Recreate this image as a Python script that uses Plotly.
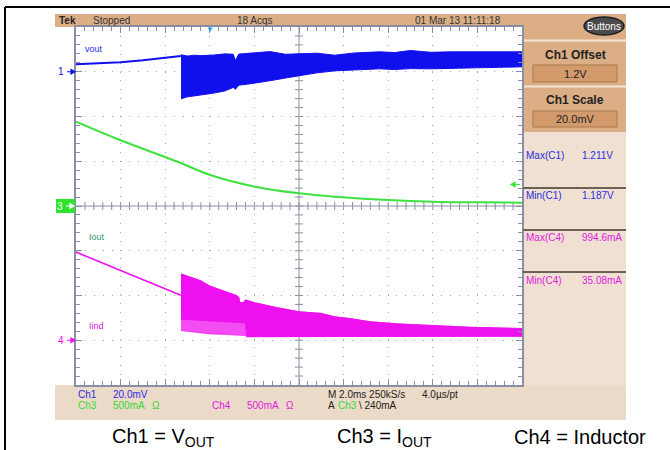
import plotly.graph_objects as go

W, H = 670, 450
GX0, GX1, GY0, GY1 = 76, 522, 27, 385   # graticule box (px)
DIV_PX = (GY1 - GY0) / 8

def px(x):
    return x / W

def py(y):
    return 1 - y / H

# ---------------- data ----------------
# time in ms (2 ms/div, 10 div)
ch1_pre_t = [0.0, 1.0, 2.0, 3.0, 4.0, 4.7]
ch1_pre_v = [1.2033, 1.2037, 1.2043, 1.2051, 1.2061, 1.2070]

ch1_band_t = [4.71, 5.0, 5.3, 5.6, 6.2, 6.7, 7.05, 7.15, 7.3, 7.8, 8.3, 8.7, 9.4,
              10.0, 10.8, 11.6, 12.5, 13.6, 14.3, 15.0, 15.9, 16.8, 18.0, 19.0, 20.0]
ch1_upper = [1.2076, 1.2070, 1.2074, 1.2072, 1.2075, 1.2080, 1.2078, 1.2050, 1.2079,
             1.2082, 1.2086, 1.2090, 1.2078, 1.2080, 1.2083, 1.2074, 1.2084, 1.2089,
             1.2086, 1.2095, 1.2087, 1.2089, 1.2090, 1.2088, 1.2089]
ch1_lower = [1.1879, 1.1888, 1.1892, 1.1896, 1.1905, 1.1915, 1.1930, 1.1922, 1.1940,
             1.1946, 1.1953, 1.1960, 1.1972, 1.1982, 1.1995, 1.2004, 1.2008, 1.2013,
             1.2010, 1.2014, 1.2013, 1.2015, 1.2018, 1.2020, 1.2022]

ch3_t = [0.0, 1.97, 4.0, 4.7, 6.02, 8.03, 10.0, 11.6, 14.0, 16.0, 18.0, 20.0]
ch3_i = [0.942, 0.737, 0.547, 0.480, 0.346, 0.216, 0.142, 0.104, 0.067, 0.048, 0.041, 0.037]

ch4_pre_t = [0.0, 2.35, 4.7]
ch4_pre_i = [0.985, 0.744, 0.503]

ch4_band_t = [4.71, 5.0, 5.6, 6.0, 6.7, 7.2, 7.3, 7.35, 7.5, 7.6, 7.65, 8.0, 9.0,
              10.0, 11.0, 11.6, 12.3, 13.2, 14.5, 15.9, 17.7, 20.0]
ch4_upper = [0.741, 0.715, 0.664, 0.605, 0.547, 0.500, 0.480, 0.420, 0.420, 0.450,
             0.447, 0.420, 0.365, 0.318, 0.300, 0.262, 0.242, 0.206, 0.182, 0.164,
             0.145, 0.131]
ch4_dense_lower = [0.235, 0.230, 0.220, 0.212, 0.205, 0.198, 0.196, 0.195, 0.194,
                   0.193, 0.040, 0.040, 0.040, 0.040, 0.040, 0.040, 0.041, 0.042,
                   0.043, 0.043, 0.044, 0.045]
ch4_lower = [0.108, 0.100, 0.082, 0.071, 0.065, 0.058, 0.056, 0.055, 0.053, 0.052,
             0.040, 0.040, 0.040, 0.040, 0.040, 0.040, 0.041, 0.042, 0.043, 0.043,
             0.044, 0.045]

# scope settings
ch1_offset, ch1_scale, ch1_pos = 1.2, 0.020, 3.0     # V, V/div, div
ch3_scale, ch3_pos = 0.5, 0.0                          # A/div
ch4_scale, ch4_pos = 0.5, -3.0
trig_level = 0.240
trig_time = 6.0

BLUE = "#1010ee"
GREEN = "#3ee23e"
MAGENTA = "#ee10ee"
FRAME = "#8a8fa6"
FONT = "Liberation Sans, Arial, sans-serif"

fig = go.Figure()

# Ch3
fig.add_trace(go.Scatter(x=ch3_t, y=ch3_i, yaxis="y3", mode="lines",
                         line=dict(color=GREEN, width=2, shape="spline")))
# Ch4
fig.add_trace(go.Scatter(x=ch4_pre_t, y=ch4_pre_i, yaxis="y4", mode="lines",
                         line=dict(color=MAGENTA, width=1.6)))
fig.add_trace(go.Scatter(x=ch4_band_t, y=ch4_upper, yaxis="y4", mode="lines",
                         line=dict(color=MAGENTA, width=0.8)))
fig.add_trace(go.Scatter(x=ch4_band_t, y=ch4_lower, yaxis="y4", mode="lines",
                         line=dict(color="rgba(238,16,238,0.8)", width=0.8),
                         fill="tonexty", fillcolor="rgba(238,16,238,0.75)"))
fig.add_trace(go.Scatter(x=ch4_band_t, y=ch4_upper, yaxis="y4", mode="lines",
                         line=dict(color=MAGENTA, width=0.8)))
fig.add_trace(go.Scatter(x=ch4_band_t, y=ch4_dense_lower, yaxis="y4", mode="lines",
                         line=dict(color=MAGENTA, width=0.8),
                         fill="tonexty", fillcolor=MAGENTA))
# Ch1
fig.add_trace(go.Scatter(x=ch1_pre_t, y=ch1_pre_v, yaxis="y2", mode="lines",
                         line=dict(color=BLUE, width=2)))
fig.add_trace(go.Scatter(x=ch1_band_t, y=ch1_upper, yaxis="y2", mode="lines",
                         line=dict(color=BLUE, width=1)))
fig.add_trace(go.Scatter(x=ch1_band_t, y=ch1_lower, yaxis="y2", mode="lines",
                         line=dict(color=BLUE, width=1),
                         fill="tonexty", fillcolor=BLUE))

def ch_range(offset, scale, pos):
    return [offset + (-4 - pos) * scale, offset + (4 - pos) * scale]

axis_common = dict(showline=True, linecolor=FRAME, linewidth=2, mirror="ticks",
                   ticks="inside", tickcolor=FRAME, ticklen=6, tickwidth=1,
                   showticklabels=False, zeroline=False,
                   showgrid=True, gridcolor="#a6a6a6", gridwidth=1,
                   griddash="1px,7.9px")

fig.update_layout(
    width=W, height=H, autosize=False,
    margin=dict(l=0, r=0, t=0, b=0),
    paper_bgcolor="white", plot_bgcolor="white",
    showlegend=False,
    xaxis=dict(domain=[px(GX0), px(GX1)], range=[0, 20], dtick=2, tick0=0,
               minor=dict(dtick=0.4, ticks="inside", ticklen=4, tickcolor=FRAME,
                          showgrid=False),
               **axis_common),
    yaxis=dict(domain=[py(GY1), py(GY0)], range=[-4, 4], dtick=1, tick0=0,
               minor=dict(dtick=0.2, ticks="inside", ticklen=4, tickcolor=FRAME,
                          showgrid=False),
               **axis_common),
    yaxis2=dict(overlaying="y", range=ch_range(ch1_offset, ch1_scale, ch1_pos), visible=False),
    yaxis3=dict(overlaying="y", range=ch_range(0, ch3_scale, ch3_pos), visible=False),
    yaxis4=dict(overlaying="y", range=ch_range(0, ch4_scale, ch4_pos), visible=False),
)

shapes = []

def prect(x0, y0, x1, y1, fill, line=None, lw=0, layer="below", kind="rect"):
    shapes.append(dict(type=kind, xref="paper", yref="paper",
                       x0=px(x0), x1=px(x1), y0=py(y1), y1=py(y0),
                       fillcolor=fill, line=dict(color=line or fill, width=lw),
                       layer=layer))

def pline(x0, y0, x1, y1, color, lw=1, layer="above"):
    shapes.append(dict(type="line", xref="paper", yref="paper",
                       x0=px(x0), x1=px(x1), y0=py(y0), y1=py(y1),
                       line=dict(color=color, width=lw), layer=layer))

def arrow(yref, yval, scale, xa, xb, color):
    """small horizontal arrow from pixel xa to pixel xb (head at xb) at channel level yval"""
    h = 2.2 / DIV_PX * scale
    d = 4 if xb > xa else -4
    p = (f"M {px(xa):.5f},{yval:.5f} L {px(xb - d):.5f},{yval:.5f} "
         f"M {px(xb - d):.5f},{yval - h:.5f} L {px(xb):.5f},{yval:.5f} "
         f"L {px(xb - d):.5f},{yval + h:.5f} Z")
    shapes.append(dict(type="path", xref="paper", yref=yref, path=p,
                       fillcolor=color, line=dict(color=color, width=1.2), layer="above"))

# outer frame
pline(5, 7, 670, 7, "black", 2)
pline(5, 7, 5, 450, "black", 2)

# scope panels
prect(55, 14, 626, GY0, "#dbae86")
prect(GX1, GY0, 626, 420, "#efe0d2")
prect(GX1, GY0, 626, 132, "#dbae86")
prect(55, GY1, 626, 420, "#ecdac8")
pline(524, 40.5, 626, 40.5, "#f4e7da", 2)
pline(524, 86.5, 626, 86.5, "#f4e7da", 2)
prect(533, 65, 617, 82, "#d39b6b", "#a9784c", 1, layer="above")
prect(533, 111, 617, 127, "#d39b6b", "#a9784c", 1, layer="above")
prect(584, 17, 624, 35, "#4b4b4b", "#1e1e1e", 1.5, layer="above", kind="circle")
for sy in (188, 230, 272):
    pline(523, sy, 626, sy, "#6c6157", 2)

# centre cross with small ticks (graticule)
hx, hy = 4 / 22.3, 4 / 44.75
path = "M 0,0 L 20,0 M 10,-4 L 10,4 "
for k in range(1, 50):
    x = k * 0.4
    path += f"M {x:.3f},{-hy:.4f} L {x:.3f},{hy:.4f} "
for k in range(1, 40):
    y = -4 + k * 0.2
    path += f"M {10 - hx:.4f},{y:.3f} L {10 + hx:.4f},{y:.3f} "
shapes.append(dict(type="path", xref="x", yref="y", path=path,
                   line=dict(color=FRAME, width=1), layer="below"))

# Ch3 ground marker box
prect(56, 199, 75, 213, "#2ee42e", layer="above")

# channel ground arrows and trigger level arrow
arrow("y2", ch1_offset, ch1_scale, 67, 75, BLUE)
arrow("y3", 0, ch3_scale, 66, 74, "white")
arrow("y4", 0, ch4_scale, 67, 75, MAGENTA)
arrow("y3", trig_level, ch3_scale, 520, 511, GREEN)

fig.update_layout(shapes=shapes)

ann = []

def text(x, y, s, color="#222", size=10, anchor="left", bold=False, xref="paper", yref="paper"):
    ann.append(dict(x=x, y=y, xref=xref, yref=yref, text=(f"<b>{s}</b>" if bold else s),
                    showarrow=False, xanchor=anchor, yanchor="middle",
                    font=dict(family=FONT, size=size, color=color)))

# header
text(px(57), py(21), "Tek", "#222", 10, bold=True)
text(px(91), py(21), "Stopped", "#333", 10)
text(px(235), py(21), "18 Acqs", "#333", 10)
text(px(413), py(21), "01 Mar 13 11:11:18", "#333", 10)
text(px(604), py(26), "Buttons", "white", 10, anchor="center")

# right panel
text(px(575), py(55), "Ch1 Offset", "#222", 12, anchor="center", bold=True)
text(px(575), py(73.5), "1.2V", "#222", 11, anchor="center")
text(px(575), py(100), "Ch1 Scale", "#222", 12, anchor="center", bold=True)
text(px(575), py(119), "20.0mV", "#222", 11, anchor="center")
text(px(524), py(155), "Max(C1)", "#2a2ae0", 10)
text(px(580), py(155), "1.211V", "#2a2ae0", 10)
text(px(524), py(196), "Min(C1)", "#2a2ae0", 10)
text(px(580), py(196), "1.187V", "#2a2ae0", 10)
text(px(524), py(238), "Max(C4)", "#e020e0", 10)
text(px(580), py(238), "994.6mA", "#e020e0", 10)
text(px(524), py(280), "Min(C4)", "#e020e0", 10)
text(px(580), py(280), "35.08mA", "#e020e0", 10)

# bottom bar
text(px(76), py(394), "Ch1", "#2a2ae0", 10)
text(px(111), py(394), "20.0mV", "#2a2ae0", 10)
text(px(76), py(405), "Ch3", "#36d836", 10)
text(px(111), py(405), "500mA", "#36d836", 10)
text(px(150), py(405), "Ω", "#36d836", 10)
text(px(210), py(405), "Ch4", "#e020e0", 10)
text(px(245), py(405), "500mA", "#e020e0", 10)
text(px(284), py(405), "Ω", "#e020e0", 10)
text(px(326), py(394), "M 2.0ms 250kS/s", "#222", 10)
text(px(420), py(394), "4.0µs/pt", "#222", 10)
text(px(326), py(405), "A", "#222", 10)
text(px(336), py(405), "Ch3", "#36d836", 10)
text(px(357), py(405), "\\ 240mA", "#222", 10)

# trace labels
text(px(83), py(49), "vout", "#2a2ae0", 9)
text(px(87), py(237), "Iout", "#2a9a6a", 9)
text(px(87), py(326), "Iind", "#e020e0", 9)

# channel ground marker digits
text(px(66), ch1_offset, "1", BLUE, 10, anchor="right", yref="y2")
text(px(65), 0, "3", "white", 10, anchor="right", yref="y3")
text(px(66), 0, "4", MAGENTA, 10, anchor="right", yref="y4")
# trigger position
text(trig_time, py(29.5), "▼", "#2a9ae8", 8, anchor="center", xref="x")

# captions
text(px(110), py(437), "Ch1 = V<sub>OUT</sub>", "black", 20)
text(px(335), py(437), "Ch3 = I<sub>OUT</sub>", "black", 20)
text(px(512), py(437), "Ch4 = Inductor", "black", 20)

fig.update_layout(annotations=ann)

fig.write_html("out.html",
               config={"displayModeBar": False, "staticPlot": True},
               post_script="document.body.style.margin='0';document.body.style.padding='0';"
                           "document.body.style.overflow='hidden';")
